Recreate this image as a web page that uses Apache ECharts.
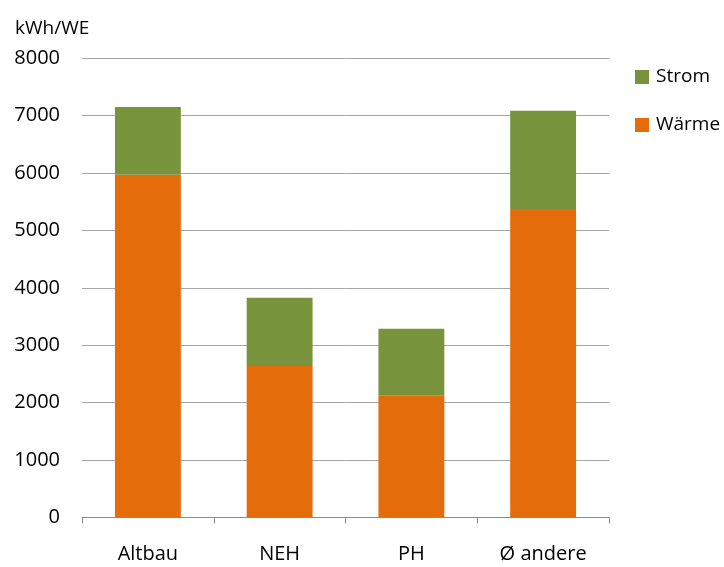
<!DOCTYPE html>
<html>
<head>
<meta charset="utf-8">
<script src="https://cdn.jsdelivr.net/npm/echarts@6/dist/echarts.min.js"></script>
<style>
  html, body { margin: 0; padding: 0; background: #fff; }
  #chart { width: 724px; height: 567px; }
</style>
</head>
<body>
<div id="chart"></div>
<script>
// Energy demand per dwelling unit, split into heat and electricity
const categories = ['Altbau', 'NEH', 'PH', 'Ø andere'];
const waerme = [5970, 2640, 2120, 5375];
const strom = [1180, 1190, 1170, 1710];
const yTicks = [0, 1000, 2000, 3000, 4000, 5000, 6000, 7000, 8000];

const FONT = '"Open Sans", Lato, sans-serif';
const chart = echarts.init(document.getElementById('chart'), null, { renderer: 'canvas' });

chart.setOption({
  animation: false,
  backgroundColor: '#ffffff',
  textStyle: { fontFamily: FONT },
  title: {
    text: 'kWh/WE',
    left: 10,
    top: 14,
    textStyle: { fontFamily: FONT, fontSize: 19, fontWeight: 'normal', color: '#000' }
  },
  legend: {
    orient: 'vertical',
    left: 630,
    top: 61,
    itemWidth: 14,
    itemHeight: 14,
    itemGap: 26,
    icon: 'rect',
    data: ['Strom', 'Wärme'],
    textStyle: { fontFamily: FONT, fontSize: 19, lineHeight: 22, color: '#000', padding: [0, 0, 0, 2] }
  },
  grid: { left: 82, right: 115, top: 58.3, bottom: 49.5, containLabel: false },
  xAxis: {
    type: 'category',
    data: categories,
    boundaryGap: true,
    axisLine: { lineStyle: { color: '#8c8c8c', width: 1 } },
    axisTick: { show: true, length: 6, lineStyle: { color: '#8c8c8c' } },
    axisLabel: { margin: 27, fontFamily: FONT, fontSize: 20, color: '#000' }
  },
  yAxis: {
    type: 'value',
    min: yTicks[0],
    max: yTicks[yTicks.length - 1],
    interval: 1000,
    axisLine: { show: false },
    axisTick: { show: false },
    axisLabel: {
      margin: 22,
      fontFamily: FONT,
      fontSize: 20,
      color: '#000',
      formatter: (v) => String(v)
    },
    splitLine: { lineStyle: { color: '#a6a6a6', width: 1 } }
  },
  series: [
    {
      name: 'Wärme',
      type: 'bar',
      stack: 'total',
      barWidth: '50%',
      data: waerme,
      itemStyle: { color: '#e46c0a' }
    },
    {
      name: 'Strom',
      type: 'bar',
      stack: 'total',
      barWidth: '50%',
      data: strom,
      itemStyle: { color: '#77933c' }
    }
  ]
});
</script>
</body>
</html>
